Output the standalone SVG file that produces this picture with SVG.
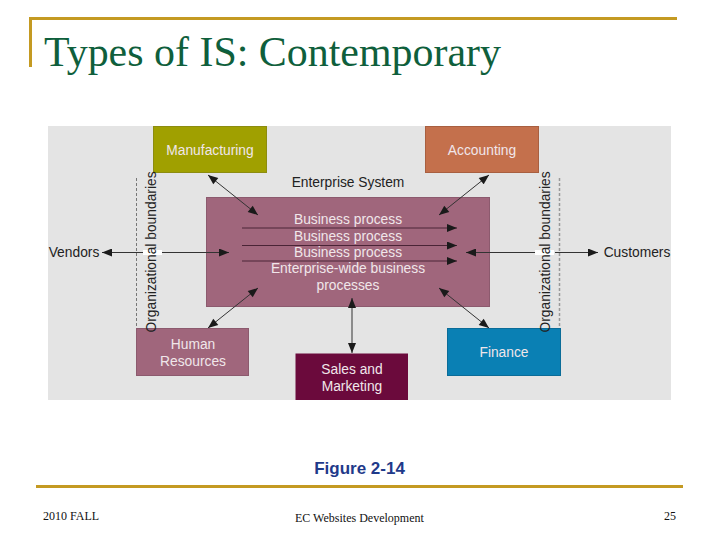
<svg xmlns="http://www.w3.org/2000/svg" width="720" height="540" viewBox="0 0 720 540">
<style>
.g{fill:none;stroke:#c49a22;stroke-width:3}
.box{stroke-width:1}
.w{font:13.8px "Liberation Sans",Arial,sans-serif;fill:#f0e6ea;text-anchor:middle}
.k{font:13.8px "Liberation Sans",Arial,sans-serif;fill:#222;text-anchor:middle}
.f{font:12px "Liberation Serif","Times New Roman",serif;fill:#111}
.c{fill:none;stroke:#333;stroke-width:1;marker-start:url(#a);marker-end:url(#a)}
.e{fill:none;stroke:#333;stroke-width:1;marker-end:url(#a)}
.p{fill:none;stroke:#4a2436;stroke-width:1;marker-end:url(#a)}
.d{fill:none;stroke:#777;stroke-width:1;stroke-dasharray:3 2}
.d2{fill:none;stroke:#999;stroke-width:1.500;stroke-dasharray:3 2}
</style>
<defs>
<marker id="a" viewBox="0 0 10 8" refX="10" refY="4" markerUnits="userSpaceOnUse" markerWidth="11" markerHeight="8" orient="auto-start-reverse"><path d="M0 0L10 4L0 8z" fill="#1a1a1a"/></marker>
</defs>
<rect width="720" height="540" fill="#fff"/>
<path class="g" d="M30.500 67V18.500H677"/>
<path class="g" d="M36 486.500H683"/>
<text id="title" x="44" y="66" font-family="'Liberation Serif','Times New Roman',serif" font-size="43" fill="#0f5f3c" textLength="457" lengthAdjust="spacingAndGlyphs">Types of IS: Contemporary</text>
<rect x="48" y="126" width="623" height="274" fill="#e4e4e4"/>
<g id="enterprise">
<rect class="box" x="206.500" y="197.500" width="283" height="109" fill="#a0667c" stroke="#8c5a6e"/>
<text class="k" x="348" y="187">Enterprise System</text>
<text class="w" x="348" y="224">Business process</text>
<text class="w" x="348" y="240.500">Business process</text>
<text class="w" x="348" y="257">Business process</text>
<text class="w" x="348" y="273">Enterprise-wide business</text>
<text class="w" x="348" y="290">processes</text>
</g>
<g id="connectors">
<path class="d" d="M136.500 178V328"/>
<path class="d2" d="M559.500 178V328"/>
<path class="c" d="M208 175L258 215"/>
<path class="c" d="M489 175L439 215"/>
<path class="c" d="M258 288L208 328"/>
<path class="c" d="M439 288L489 328"/>
<path class="c" d="M352 298V353"/>
<path class="p" d="M242 228H457"/>
<path class="p" d="M242 245.500H457"/>
<path class="p" d="M242 261H457"/>
<path class="e" d="M143 252.500H102"/>
<path class="e" d="M162 252.500H229"/>
<path class="e" d="M535 252.500H466"/>
<path class="e" d="M555 252.500H598"/>
<rect x="143" y="250" width="19" height="5" fill="#fff"/>
<rect x="535" y="250" width="19" height="5" fill="#fff"/>
</g>
<g id="manufacturing">
<rect class="box" x="153.500" y="126.500" width="113" height="46" fill="#a0a000" stroke="#8c8c10"/>
<text class="w" x="210" y="155">Manufacturing</text>
</g>
<g id="accounting">
<rect class="box" x="425.500" y="126.500" width="113" height="46" fill="#c4704c" stroke="#a85f40"/>
<text class="w" x="482" y="155">Accounting</text>
</g>
<g id="human-resources">
<rect class="box" x="136.500" y="328.500" width="112" height="47" fill="#a0667c" stroke="#8c5a6e"/>
<text class="w" x="193" y="349">Human</text>
<text class="w" x="193" y="365.500">Resources</text>
</g>
<g id="sales-marketing">
<rect x="295.500" y="353.500" width="112.500" height="46.500" fill="#6b0a3c"/>
<text class="w" x="352" y="374">Sales and</text>
<text class="w" x="352" y="391">Marketing</text>
</g>
<g id="finance">
<rect class="box" x="447.500" y="328.500" width="113" height="47" fill="#0a80b4" stroke="#0a6c98"/>
<text class="w" x="504" y="356.500">Finance</text>
</g>
<text id="org-left" class="k" transform="translate(156 252) rotate(-90)">Organizational boundaries</text>
<text id="org-right" class="k" transform="translate(550 252) rotate(-90)">Organizational boundaries</text>
<text id="vendors" class="k" x="74" y="257">Vendors</text>
<text id="customers" class="k" x="637" y="257">Customers</text>
<text id="figure" x="359.500" y="474" text-anchor="middle" font-family="'Liberation Sans',Arial,sans-serif" font-size="17" font-weight="700" fill="#1f3a8a">Figure 2-14</text>
<text class="f" x="43" y="520">2010 FALL</text>
<text class="f" x="295" y="522">EC Websites Development</text>
<text class="f" x="664" y="520">25</text>
</svg>
